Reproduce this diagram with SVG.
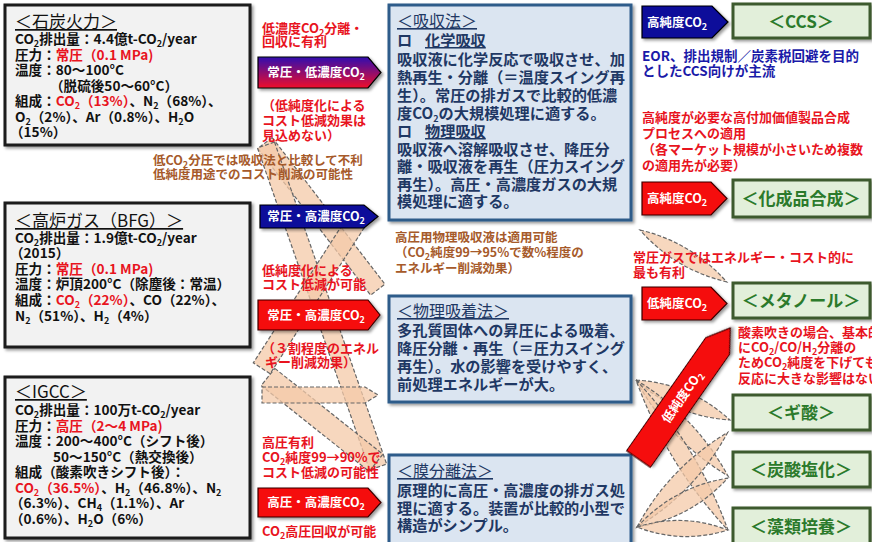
<svg xmlns="http://www.w3.org/2000/svg" width="872" height="542" viewBox="0 0 872 542">
<style>
.t{font-family:"Noto Sans CJK JP","Noto Sans",sans-serif;font-weight:bold}
.bk{fill:#111;font-size:13.6px}
.r{fill:#e8141e}
.ttl{font-size:17px;font-weight:normal;text-decoration:underline}
.sb{font-size:9px}
.src{fill:#f2f2f2;stroke:#1a1a1a;stroke-width:3}
.mth{fill:#dbe5f1;stroke:#2f5b8a;stroke-width:3}
.use{fill:#e2efda;stroke:#3d5a2e;stroke-width:3}
.mt{fill:#1f3864;font-size:15.2px}
.mtt{fill:#1f3864;font-size:16px;font-weight:normal;text-decoration:underline}
.ut{fill:#2b7a2b;font-size:17px;text-anchor:middle}
.lab{font-size:13px}
.red{fill:#e8141e}
.brn{fill:#a65a2a;font-size:12.5px}
.blu{fill:#1a1aa8;font-size:13.5px}
.wt{fill:#fff;font-size:12.5px;text-anchor:middle}
.arR{fill:#f50a0a;stroke:#3a0000;stroke-width:1.2}
.arN{fill:#0a0a9a;stroke:#000;stroke-width:1.2}
.band{fill:#f4c9a8;fill-opacity:.75;stroke:#666;stroke-width:1.2;stroke-dasharray:4 2}
</style>
<defs>
<filter id="sh" x="-10%" y="-10%" width="130%" height="130%"><feDropShadow dx="2" dy="2" stdDeviation="1.5" flood-opacity=".4"/></filter>
<linearGradient id="gp" x1="0" y1="0" x2="0" y2="1"><stop offset="0" stop-color="#3010b0"/><stop offset="1" stop-color="#f0102a"/></linearGradient>
</defs>

<g id="connectors">
<path class="band" transform="translate(265,143) rotate(52.45)" d="M0,-9 H185 V9 H0 Z"/>
<path class="band" transform="translate(266,145) rotate(70.8)" d="M0,-9 H341 V9 H0 Z"/>
<path class="band" transform="translate(356,222) rotate(122.8)" d="M0,-10 H174 V10 H0 Z"/>
<path class="band" transform="translate(268,377) rotate(38.5)" d="M0,-11 H138 V11 H0 Z"/>
<path class="band" d="M262,387 H365 L378,395 L365,403 H262 Z"/>
<path class="band" transform="translate(640,230) rotate(30.9)" d="M0,0 Q50,-16 101,0 Q50,16 0,0 Z"/>
<path class="band" transform="translate(636,380) rotate(23.05)" d="M0,0 Q51,-18 102,0 Q51,18 0,0 Z"/>
<path class="band" transform="translate(636,380) rotate(46.2)" d="M0,0 Q66,-18 133,0 Q66,18 0,0 Z"/>
<path class="band" transform="translate(636,380) rotate(58.5)" d="M0,0 Q88,-18 176,0 Q88,18 0,0 Z"/>
<path class="band" transform="translate(637,527) rotate(-46.2)" d="M0,0 Q65,-18 131,0 Q65,18 0,0 Z"/>
<path class="band" transform="translate(637,527) rotate(-28.3)" d="M0,0 Q52,-18 103,0 Q52,18 0,0 Z"/>
<path class="band" transform="translate(637,527) rotate(1.9)" d="M0,0 Q45,-16 91,0 Q45,16 0,0 Z"/>
</g>

<g id="src-coal">
<rect class="src" x="5" y="5" width="245" height="140" filter="url(#sh)"/>
<text class="t bk">
<tspan class="ttl" x="15" y="28">＜石炭火力＞</tspan>
<tspan x="15" y="44">CO<tspan class="sb" dy="3">2</tspan><tspan dy="-3">排出量：4.4億t-CO</tspan><tspan class="sb" dy="3">2</tspan><tspan dy="-3">/year</tspan></tspan>
<tspan x="15" y="60">圧力：<tspan class="r">常圧（0.1 MPa)</tspan></tspan>
<tspan x="15" y="75">温度：80～100°C</tspan>
<tspan x="50" y="91">（脱硫後50～60°C）</tspan>
<tspan x="15" y="106">組成：<tspan class="r">CO</tspan><tspan class="r sb" dy="3">2</tspan><tspan class="r" dy="-3">（13%）</tspan>、N<tspan class="sb" dy="3">2</tspan><tspan dy="-3">（68%）、</tspan></tspan>
<tspan x="15" y="122">O<tspan class="sb" dy="3">2</tspan><tspan dy="-3">（2%）、Ar（0.8%）、H</tspan><tspan class="sb" dy="3">2</tspan><tspan dy="-3">O</tspan></tspan>
<tspan x="10" y="137">（15%）</tspan>
</text>
</g>

<g id="src-bfg">
<rect class="src" x="5" y="203" width="245" height="144" filter="url(#sh)"/>
<text class="t bk">
<tspan class="ttl" x="15" y="227">＜高炉ガス（BFG）＞</tspan>
<tspan x="15" y="243">CO<tspan class="sb" dy="3">2</tspan><tspan dy="-3">排出量：1.9億t-CO</tspan><tspan class="sb" dy="3">2</tspan><tspan dy="-3">/year</tspan></tspan>
<tspan x="10" y="258">（2015）</tspan>
<tspan x="15" y="274">圧力：<tspan class="r">常圧（0.1 MPa)</tspan></tspan>
<tspan x="15" y="289">温度：炉頂200°C（除塵後：常温）</tspan>
<tspan x="15" y="305">組成：<tspan class="r">CO</tspan><tspan class="r sb" dy="3">2</tspan><tspan class="r" dy="-3">（22%）</tspan>、CO（22%）、</tspan>
<tspan x="15" y="321">N<tspan class="sb" dy="3">2</tspan><tspan dy="-3">（51%）、H</tspan><tspan class="sb" dy="3">2</tspan><tspan dy="-3">（4%）</tspan></tspan>
</text>
</g>

<g id="src-igcc">
<rect class="src" x="5" y="377" width="245" height="161" filter="url(#sh)"/>
<text class="t bk">
<tspan class="ttl" x="15" y="398">＜IGCC＞</tspan>
<tspan x="15" y="415">CO<tspan class="sb" dy="3">2</tspan><tspan dy="-3">排出量：100万t-CO</tspan><tspan class="sb" dy="3">2</tspan><tspan dy="-3">/year</tspan></tspan>
<tspan x="15" y="431">圧力：<tspan class="r">高圧（2～4 MPa)</tspan></tspan>
<tspan x="15" y="446">温度：200～400°C（シフト後）</tspan>
<tspan x="53" y="462">50～150°C（熱交換後）</tspan>
<tspan x="15" y="477">組成（酸素吹きシフト後）：</tspan>
<tspan x="15" y="493"><tspan class="r">CO</tspan><tspan class="r sb" dy="3">2</tspan><tspan class="r" dy="-3">（36.5%）</tspan>、H<tspan class="sb" dy="3">2</tspan><tspan dy="-3">（46.8%）、N</tspan><tspan class="sb" dy="3">2</tspan></tspan>
<tspan x="10" y="508">（6.3%）、CH<tspan class="sb" dy="3">4</tspan><tspan dy="-3">（1.1%）、Ar</tspan></tspan>
<tspan x="10" y="524">（0.6%）、H<tspan class="sb" dy="3">2</tspan><tspan dy="-3">O（6%）</tspan></tspan>
</text>
</g>

<g id="arrow-coal">
<path d="M258,57 H368 L381,72.5 L368,88 H258 Z" fill="url(#gp)" stroke="#000" stroke-width="1.2" filter="url(#sh)"/>
<text class="t wt" x="316" y="77">常圧・低濃度CO<tspan class="sb" dy="3">2</tspan></text>
</g>
<g id="arrow-bfg1">
<path class="arN" d="M260,205 H364 L378,216.5 L364,228 H260 Z" filter="url(#sh)"/>
<text class="t wt" x="316" y="221">常圧・高濃度CO<tspan class="sb" dy="3">2</tspan></text>
</g>
<g id="arrow-bfg2">
<path class="arR" d="M258,300 H368 L380,315 L368,330 H258 Z" filter="url(#sh)"/>
<text class="t wt" x="316" y="320">常圧・高濃度CO<tspan class="sb" dy="3">2</tspan></text>
</g>
<g id="arrow-igcc">
<path class="arR" d="M258,488 H368 L381,502.5 L368,517 H258 Z" filter="url(#sh)"/>
<text class="t wt" x="316" y="507">高圧・高濃度CO<tspan class="sb" dy="3">2</tspan></text>
</g>

<g id="notes-left">
<text class="t lab red"><tspan x="262" y="33">低濃度CO<tspan class="sb" dy="3">2</tspan><tspan dy="-3">分離・</tspan></tspan><tspan x="262" y="46">回収に有利</tspan></text>
<text class="t lab red"><tspan x="262" y="110">（低純度化による</tspan><tspan x="262" y="125">コスト低減効果は</tspan><tspan x="262" y="140">見込めない）</tspan></text>
<text class="t brn"><tspan x="153" y="165">低CO<tspan class="sb" dy="3">2</tspan><tspan dy="-3">分圧では吸収法と比較して不利</tspan></tspan><tspan x="153" y="179">低純度用途でのコスト削減の可能性</tspan></text>
<text class="t lab red"><tspan x="262" y="275">低純度化による</tspan><tspan x="262" y="289">コスト低減が可能</tspan></text>
<text class="t lab red"><tspan x="262" y="353">（３割程度のエネル</tspan><tspan x="265" y="367">ギー削減効果）</tspan></text>
<text class="t lab red"><tspan x="262" y="447">高圧有利</tspan><tspan x="262" y="462">CO<tspan class="sb" dy="3">2</tspan><tspan dy="-3">純度99→90%で</tspan></tspan><tspan x="262" y="477">コスト低減の可能性</tspan></text>
<text class="t lab red" x="262" y="536">CO<tspan class="sb" dy="3">2</tspan><tspan dy="-3">高圧回収が可能</tspan></text>
<text class="t brn"><tspan x="395" y="242">高圧用物理吸収液は適用可能</tspan><tspan x="395" y="257">（CO<tspan class="sb" dy="3">2</tspan><tspan dy="-3">純度99→95%で数%程度の</tspan></tspan><tspan x="395" y="273">エネルギー削減効果）</tspan></text>
</g>

<g id="m-absorb">
<rect class="mth" x="389" y="5" width="242" height="215" filter="url(#sh)"/>
<text class="t mt">
<tspan class="mtt" x="397" y="27">＜吸収法＞</tspan>
<tspan x="397" y="46">ロ</tspan><tspan x="425" y="46" text-decoration="underline">化学吸収</tspan>
<tspan x="397" y="65">吸収液に化学反応で吸収させ、加</tspan>
<tspan x="397" y="83">熱再生・分離（＝温度スイング再</tspan>
<tspan x="397" y="101">生）。常圧の排ガスで比較的低濃</tspan>
<tspan x="397" y="119">度CO<tspan class="sb" dy="3">2</tspan><tspan dy="-3">の大規模処理に適する。</tspan></tspan>
<tspan x="397" y="137">ロ</tspan><tspan x="425" y="137" text-decoration="underline">物理吸収</tspan>
<tspan x="397" y="155">吸収液へ溶解吸収させ、降圧分</tspan>
<tspan x="397" y="172">離・吸収液を再生（圧力スイング</tspan>
<tspan x="397" y="190">再生）。高圧・高濃度ガスの大規</tspan>
<tspan x="397" y="207">模処理に適する。</tspan>
</text>
</g>

<g id="m-adsorb">
<rect class="mth" x="389" y="296" width="242" height="106" filter="url(#sh)"/>
<text class="t mt">
<tspan class="mtt" x="397" y="317">＜物理吸着法＞</tspan>
<tspan x="397" y="336">多孔質固体への昇圧による吸着、</tspan>
<tspan x="397" y="354">降圧分離・再生（＝圧力スイング</tspan>
<tspan x="397" y="372">再生）。水の影響を受けやすく、</tspan>
<tspan x="397" y="390">前処理エネルギーが大。</tspan>
</text>
</g>

<g id="m-membrane">
<rect class="mth" x="389" y="455" width="242" height="92" filter="url(#sh)"/>
<text class="t mt">
<tspan class="mtt" x="397" y="477">＜膜分離法＞</tspan>
<tspan x="397" y="496">原理的に高圧・高濃度の排ガス処</tspan>
<tspan x="397" y="514">理に適する。装置が比較的小型で</tspan>
<tspan x="397" y="531">構造がシンプル。</tspan>
</text>
</g>

<g id="arrow-hp">
<path class="arN" d="M642,6 H712 L728,22 L712,38 H642 Z" filter="url(#sh)"/>
<text class="t wt" x="677" y="27">高純度CO<tspan class="sb" dy="3">2</tspan></text>
</g>
<g id="arrow-hp2">
<path class="arR" d="M642,182 H711 L727,198.5 L711,215 H642 Z" filter="url(#sh)"/>
<text class="t wt" x="677" y="203">高純度CO<tspan class="sb" dy="3">2</tspan></text>
</g>
<g id="arrow-lp">
<path class="arR" d="M642,287 H711 L727,303.5 L711,320 H642 Z" filter="url(#sh)"/>
<text class="t wt" x="677" y="308">低純度CO<tspan class="sb" dy="3">2</tspan></text>
</g>
<g id="arrow-lp-diag" transform="translate(638.5,459) rotate(-55)">
<path class="arR" d="M0,-14.5 H138 L160,0 L138,14.5 H0 Z" filter="url(#sh)"/>
<text class="t wt" x="76" y="4.5">低純度CO<tspan class="sb" dy="3">2</tspan></text>
</g>

<g id="u-ccs">
<rect class="use" x="733" y="4" width="137" height="34" filter="url(#sh)"/>
<text class="t ut" x="801" y="28">＜CCS＞</text>
</g>
<g id="u-chem">
<rect class="use" x="733" y="180" width="137" height="37" filter="url(#sh)"/>
<text class="t ut" x="801" y="205">＜化成品合成＞</text>
</g>
<g id="u-meoh">
<rect class="use" x="733" y="283" width="137" height="35" filter="url(#sh)"/>
<text class="t ut" x="801" y="307">＜メタノール＞</text>
</g>
<g id="u-formic">
<rect class="use" x="733" y="395" width="137" height="35" filter="url(#sh)"/>
<text class="t ut" x="801" y="419">＜ギ酸＞</text>
</g>
<g id="u-carb">
<rect class="use" x="733" y="452" width="137" height="35" filter="url(#sh)"/>
<text class="t ut" x="801" y="476">＜炭酸塩化＞</text>
</g>
<g id="u-algae">
<rect class="use" x="733" y="508" width="137" height="38" filter="url(#sh)"/>
<text class="t ut" x="801" y="533">＜藻類培養＞</text>
</g>

<g id="notes-right">
<text class="t blu"><tspan x="642" y="61">EOR、排出規制／炭素税回避を目的</tspan><tspan x="642" y="76">としたCCS向けが主流</tspan></text>
<text class="t lab red"><tspan x="642" y="122">高純度が必要な高付加価値製品合成</tspan><tspan x="642" y="138">プロセスへの適用</tspan><tspan x="642" y="154">（各マーケット規模が小さいため複数</tspan><tspan x="642" y="170">の適用先が必要）</tspan></text>
<text class="t lab red"><tspan x="633" y="262">常圧ガスではエネルギー・コスト的に</tspan><tspan x="633" y="277">最も有利</tspan></text>
<text class="t lab red"><tspan x="738" y="337">酸素吹きの場合、基本的</tspan><tspan x="738" y="352">にCO<tspan class="sb" dy="3">2</tspan><tspan dy="-3">/CO/H</tspan><tspan class="sb" dy="3">2</tspan><tspan dy="-3">分離の</tspan></tspan><tspan x="738" y="367">ためCO<tspan class="sb" dy="3">2</tspan><tspan dy="-3">純度を下げても</tspan></tspan><tspan x="738" y="383">反応に大きな影響はない</tspan></text>
</g>
</svg>
